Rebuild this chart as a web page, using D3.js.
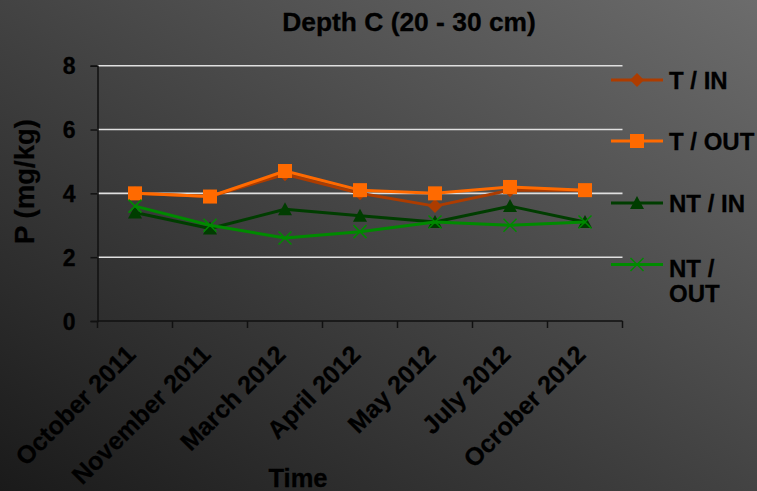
<!DOCTYPE html>
<html>
<head>
<meta charset="utf-8">
<script src="https://cdn.jsdelivr.net/npm/d3@7"></script>
<style>
html,body{margin:0;padding:0;background:#333;}
svg{display:block;}
text{font-family:Arial,"Liberation Sans",Helvetica,sans-serif;font-weight:bold;fill:#000;stroke:#000;stroke-width:0.3px;}
</style>
</head>
<body>
<svg id="chart" width="757" height="491"></svg>
<script>
const categories = ["October 2011","November 2011","March 2012","April 2012","May 2012","July 2012","Ocrober 2012"];
const tIn   = [4.0, 3.9, 4.6, 4.0, 3.6, 4.1, 4.1];
const tOut  = [4.0, 3.9, 4.7, 4.1, 4.0, 4.2, 4.1];
const ntIn  = [3.4, 2.9, 3.5, 3.3, 3.1, 3.6, 3.1];
const ntOut = [3.6, 3.0, 2.6, 2.8, 3.1, 3.0, 3.1];
const seriesNames = ["T / IN","T / OUT","NT / IN","NT / OUT"];
const yTicks = [0,2,4,6,8];

(function(){
const W = 757, H = 491;
const svg = d3.select("#chart");

const defs = svg.append("defs");
const grad = defs.append("linearGradient").attr("id","bg")
  .attr("x1","0").attr("y1","1").attr("x2","1").attr("y2","0");
grad.append("stop").attr("offset","0%").attr("stop-color","#1a1a1a");
grad.append("stop").attr("offset","100%").attr("stop-color","#6c6c6c");
svg.append("rect").attr("width",W).attr("height",H).attr("fill","url(#bg)");

const pL = 97.5, pR = 622.5, pT = 65.7, pB = 321;
const x = d3.scaleBand().domain(categories).range([pL,pR]);
const y = d3.scaleLinear().domain([0,8]).range([pB,pT]);

// gridlines
svg.append("g").selectAll("line").data(yTicks.filter(d=>d>0)).join("line")
  .attr("x1",pL).attr("x2",pR)
  .attr("y1",d=>y(d)).attr("y2",d=>y(d))
  .attr("stroke","#e0e0e0").attr("stroke-width",1.6);

// y axis
const yAxis = svg.append("g").attr("transform",`translate(${pL},0)`)
  .call(d3.axisLeft(y).tickValues(yTicks).tickSize(7).tickPadding(15).tickFormat(d3.format("d")));
yAxis.attr("font-family",null).attr("font-size",null);
yAxis.select(".domain").attr("stroke","#111").attr("stroke-width",1.5);
yAxis.selectAll(".tick line").attr("stroke","#111").attr("stroke-width",1.5);
yAxis.selectAll(".tick text").attr("font-size",23).attr("fill","#000").attr("dy","0.36em");

// x axis line and ticks at band boundaries
svg.append("line").attr("x1",pL).attr("x2",pR).attr("y1",pB).attr("y2",pB)
  .attr("stroke","#111").attr("stroke-width",1.5);
const bounds = categories.map(c=>x(c)).concat([pR]);
svg.append("g").selectAll("line").data(bounds).join("line")
  .attr("x1",d=>d).attr("x2",d=>d).attr("y1",pB).attr("y2",pB+7)
  .attr("stroke","#111").attr("stroke-width",1.5);

// x tick labels
svg.append("g").selectAll("text").data(categories).join("text")
  .attr("transform",d=>`translate(${x(d)+x.bandwidth()/2+2},${pB+35}) rotate(-45)`)
  .attr("text-anchor","end").attr("font-size",25).text(d=>d);

// titles
svg.append("text").attr("x",409).attr("y",31).attr("text-anchor","middle").attr("font-size",26.4)
  .text("Depth C (20 - 30 cm)");
svg.append("text").attr("x",298).attr("y",487).attr("text-anchor","middle").attr("font-size",25.5)
  .text("Time");
svg.append("text").attr("transform","translate(34,181.5) rotate(-90)").attr("text-anchor","middle")
  .attr("font-size",27.5).text("P (mg/kg)");

const series = [
  {name:seriesNames[0], values:tIn,  color:"#ad3c00", marker:"diamond"},
  {name:seriesNames[1], values:tOut, color:"#ff6a00", marker:"square"},
  {name:seriesNames[2], values:ntIn, color:"#003d00", marker:"triangle"},
  {name:seriesNames[3], values:ntOut,color:"#008a00", marker:"cross"}
];

function drawMarker(g, type, color, cx, cy){
  if(type==="diamond"){
    g.append("path").attr("d",`M${cx},${cy-7}L${cx+7},${cy}L${cx},${cy+7}L${cx-7},${cy}Z`).attr("fill",color);
  } else if(type==="square"){
    g.append("rect").attr("x",cx-7).attr("y",cy-7).attr("width",14).attr("height",14).attr("fill",color);
  } else if(type==="triangle"){
    g.append("path").attr("d",`M${cx},${cy-7}L${cx+7},${cy+6}L${cx-7},${cy+6}Z`).attr("fill",color);
  } else {
    const s=6.5;
    g.append("path").attr("d",`M${cx-s},${cy-s}L${cx+s},${cy+s}M${cx-s},${cy+s}L${cx+s},${cy-s}`)
      .attr("stroke",color).attr("stroke-width",1.5).attr("fill","none");
  }
}

const line = d3.line().x((d,i)=>x(categories[i])+x.bandwidth()/2).y(d=>y(d));
series.forEach(s=>{
  const g = svg.append("g");
  g.append("path").datum(s.values).attr("d",line).attr("fill","none")
    .attr("stroke",s.color).attr("stroke-width",3).attr("stroke-linejoin","round");
  s.values.forEach((v,i)=>drawMarker(g,s.marker,s.color,x(categories[i])+x.bandwidth()/2,y(v)));
});

// legend
const legY = [80,141,203,264.5];
const lg = svg.append("g");
series.forEach((s,i)=>{
  const yy = legY[i];
  lg.append("line").attr("x1",611).attr("x2",663).attr("y1",yy).attr("y2",yy)
    .attr("stroke",s.color).attr("stroke-width",3);
  drawMarker(lg,s.marker,s.color,637,yy);
  if(i<3){
    lg.append("text").attr("x",669).attr("y",yy+9).attr("font-size",24).text(s.name);
  } else {
    const parts = ["NT /","OUT"];
    parts.forEach((p,j)=>lg.append("text").attr("x",669).attr("y",yy+12+j*25).attr("font-size",24).text(p));
  }
});
})();
</script>
</body>
</html>
